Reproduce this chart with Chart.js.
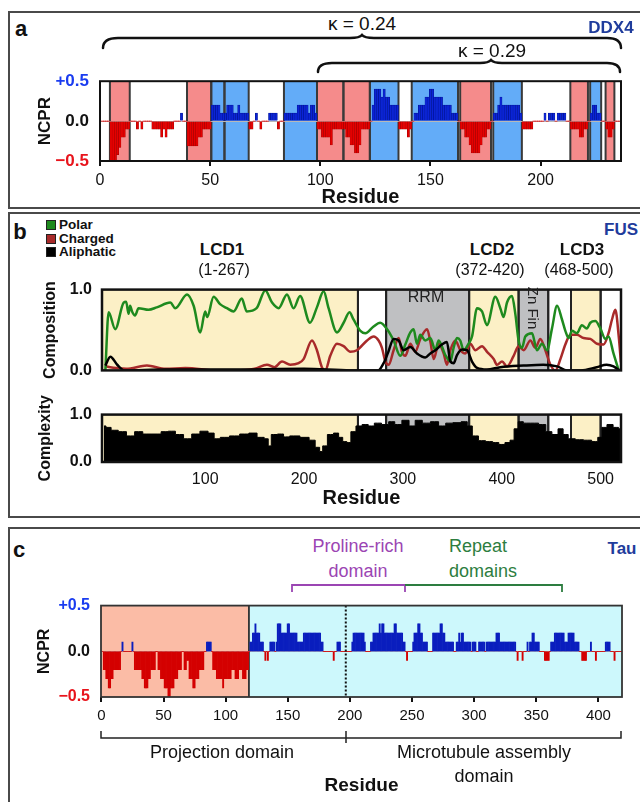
<!DOCTYPE html>
<html>
<head>
<meta charset="utf-8">
<title>NCPR and composition profiles</title>
<script src="https://cdn.jsdelivr.net/npm/chart.js"></script>
<style>
body { margin: 0; background: #fff; }
#page { position: relative; width: 640px; height: 802px; overflow: hidden; font-family: 'Liberation Sans', Arial, sans-serif; color: #111; }
.box { position: absolute; left: 8px; width: 660px; border: 2px solid #4a4a4a; box-sizing: border-box; }
.t { position: absolute; white-space: nowrap; line-height: 1; transform: translate(-50%, -50%); }
.b { font-weight: bold; }
.name { font-weight: bold; color: #1f3c9c; font-size: 17px; }
canvas { position: absolute; left: 0; }
svg { position: absolute; left: 0; top: 0; }
.key { position: absolute; left: 46px; width: 10px; height: 10px; border: 1px solid #222; box-sizing: border-box; }
.kt { position: absolute; left: 59px; font-weight: bold; font-size: 13.5px; line-height: 1; transform: translateY(-50%); }
</style>
</head>
<body>
<div id="page">
  <div class="box" style="top:11px;height:198px"></div>
  <div class="box" style="top:212px;height:306px"></div>
  <div class="box" style="top:527px;height:290px"></div>

  <svg width="640" height="802">
    <g fill="none" stroke="#111" stroke-width="2.5" stroke-linecap="round">
      <path d="M103,48 C103,41 108,38 118,38 L350,38 C356,38 360,37.5 362,35 C364,37.5 368,38 374,38 L607,38 C616,38 621,41 621,48"/>
      <path d="M318,72 C318,66 322,63 332,63 L480,63 C486,63 489,62.5 491,60 C493,62.5 496,63 502,63 L607,63 C615,63 620,66 620,72"/>
    </g>
    <path d="M292,592 L292,585 L405,585 L405,592" fill="none" stroke="#9b45b3" stroke-width="1.8"/>
    <path d="M405,585 L562,585 L562,592" fill="none" stroke="#2d7d40" stroke-width="1.8"/>
    <path d="M101,731 L101,738 L621,738 L621,731 M346,731 L346,743" fill="none" stroke="#222" stroke-width="1.5"/>
  </svg>

  <canvas id="ddx4" width="640" height="150" style="top:60px"></canvas>
  <canvas id="comp" width="640" height="120" style="top:270px"></canvas>
  <canvas id="cplx" width="640" height="115" style="top:395px"></canvas>
  <canvas id="tau" width="640" height="215" style="top:585px"></canvas>

  <div class="t b" style="left:21px;top:29px;font-size:22px">a</div>
  <div class="t" style="left:362px;top:23px;font-size:19px">κ = 0.24</div>
  <div class="t" style="left:492px;top:50px;font-size:19px">κ = 0.29</div>
  <div class="t name" style="left:611px;top:27px">DDX4</div>

  <div class="t b" style="left:20px;top:232px;font-size:22px">b</div>
  <div class="key" style="top:220px;background:#1e8a1e"></div>
  <div class="kt" style="top:225px">Polar</div>
  <div class="key" style="top:234px;background:#a82a2a"></div>
  <div class="kt" style="top:239px">Charged</div>
  <div class="key" style="top:247px;background:#000"></div>
  <div class="kt" style="top:252px">Aliphatic</div>
  <div class="t name" style="left:621px;top:229px">FUS</div>
  <div class="t b" style="left:222px;top:249px;font-size:17px">LCD1</div>
  <div class="t" style="left:224px;top:270px;font-size:16px">(1-267)</div>
  <div class="t b" style="left:492px;top:249px;font-size:17px">LCD2</div>
  <div class="t" style="left:490px;top:270px;font-size:16px">(372-420)</div>
  <div class="t b" style="left:582px;top:249px;font-size:17px">LCD3</div>
  <div class="t" style="left:579px;top:270px;font-size:16px">(468-500)</div>
  <div class="t" style="left:426px;top:297px;font-size:16px;color:#222">RRM</div>
  <div class="t" style="left:533px;top:308px;font-size:15px;color:#222;transform:translate(-50%,-50%) rotate(90deg)">Zn Fin</div>

  <div class="t b" style="left:19px;top:550px;font-size:22px">c</div>
  <div class="t name" style="left:622px;top:548px">Tau</div>
  <div class="t" style="left:358px;top:546px;font-size:18px;color:#9b45b3">Proline-rich</div>
  <div class="t" style="left:358px;top:571px;font-size:18px;color:#9b45b3">domain</div>
  <div class="t" style="left:478px;top:546px;font-size:18px;color:#2d7d40">Repeat</div>
  <div class="t" style="left:483px;top:571px;font-size:18px;color:#2d7d40">domains</div>
  <div class="t" style="left:222px;top:752px;font-size:18px">Projection domain</div>
  <div class="t" style="left:484px;top:752px;font-size:18px">Microtubule assembly</div>
  <div class="t" style="left:484px;top:776px;font-size:18px">domain</div>
</div>

<script>
Chart.defaults.font.family = "'Liberation Sans', Arial, sans-serif";
Chart.defaults.color = '#111';

// panel a: DDX4 NCPR per residue (residue 1..236)
const ddx4Ncpr = [
  0, 0, 0, 0, -0.5, -0.5, -0.5, -0.42, -0.33, -0.2,
  -0.2, -0.1, -0.1, 0, 0, 0, -0.1, 0, -0.1, 0,
  0, 0, 0, -0.1, -0.1, -0.1, -0.1, -0.2, -0.1, -0.2,
  -0.1, -0.1, -0.1, 0, 0, 0, 0.1, 0, 0, -0.31,
  -0.31, -0.31, -0.31, -0.31, -0.2, -0.2, -0.1, -0.1, -0.1, -0.1,
  0.2, 0.2, 0.2, 0.2, 0.1, 0.1, 0.1, 0.2, 0.2, 0.2,
  0.1, 0.1, 0.2, 0.1, 0.1, 0.1, 0.1, -0.1, -0.1, 0,
  0.1, 0, -0.1, 0, 0, 0, 0.1, 0.1, 0.1, 0.1,
  -0.1, 0, 0, 0.1, 0.1, 0.1, 0.1, 0.1, 0.1, 0.2,
  0.2, 0.2, 0.2, 0.2, 0.1, 0.2, 0.2, 0.1, -0.1, -0.1,
  -0.2, -0.2, -0.2, -0.2, -0.3, -0.1, -0.1, -0.1, -0.1, -0.1,
  -0.1, -0.2, -0.2, -0.3, -0.3, -0.4, -0.4, -0.3, -0.1, -0.1,
  -0.1, -0.1, 0, 0.2, 0.4, 0.4, 0.4, 0.3, 0.4, 0.3,
  0.3, 0.2, 0.2, 0.2, 0.2, -0.1, -0.1, -0.1, -0.1, -0.2,
  -0.1, 0, 0.1, 0.1, 0.2, 0.2, 0.2, 0.3, 0.3, 0.4,
  0.4, 0.3, 0.3, 0.3, 0.3, 0.2, 0.2, 0.2, 0.2, 0.1,
  0.1, 0.1, 0, -0.1, -0.1, -0.2, -0.2, -0.3, -0.4, -0.4,
  -0.4, -0.4, -0.3, -0.2, -0.2, -0.1, -0.1, 0, 0.1, 0.1,
  0.2, 0.3, 0.2, 0.2, 0.2, 0.2, 0.2, 0.2, 0.2, 0.2,
  0.1, -0.1, -0.1, -0.1, -0.1, -0.1, 0, 0, 0, 0,
  0, 0.1, 0, 0.1, 0.1, 0.1, 0, 0.1, 0.1, 0.1,
  0.1, 0, 0, -0.1, -0.1, -0.1, -0.1, -0.2, -0.2, -0.1,
  -0.1, 0, 0.1, 0.2, 0.2, 0.1, 0.1, 0, 0, -0.1,
  -0.2, -0.2, -0.1, 0, 0, 0
];
const ddx4BandStart = [4.5, 39.5, 50.5, 56.5, 83.5, 98.5, 110.5, 122.5, 141.5, 163.5, 178.5, 213.5, 222.5, 229.5];
const ddx4BandEnd = [13.5, 50.5, 56.5, 67.5, 98.5, 110.5, 122.5, 135.5, 162.5, 177.5, 191.5, 221.5, 227.5, 233.5];
const ddx4BandSign = [-1, -1, 1, 1, 1, -1, -1, 1, 1, -1, 1, -1, 1, -1];
const ddx4Ticks = [0, 50, 100, 150, 200];
const ncprTicks = [-0.5, 0, 0.5];
const ncprTickLabels = ['\u22120.5', '0.0', '+0.5'];

// panel b: FUS composition and complexity
const fusBandStart = [-4.4, 254.5, 283, 367, 417, 447, 470, 500];
const fusBandEnd = [254.5, 283, 367, 417, 447, 470, 500, 520.6];
const fusBandKind = ['lcd', 'none', 'fold', 'lcd', 'fold', 'none', 'lcd', 'none'];
const polarRes = [
  -1, 2.3, 9, 17.5, 20, 22.5, 24, 26, 29, 32.6,
  42.7, 51, 64.7, 69.7, 81.6, 88.3, 95, 100, 102, 108.5,
  115, 122, 128.7, 137, 142, 152, 160.8, 167.6, 174.3, 182.7,
  189.4, 196, 206, 213, 219.8, 224.8, 233.3, 240, 246, 250,
  257, 262, 270, 277, 284, 290.6, 297.3, 302.4, 307.5, 310.8,
  314.2, 317.6, 322.6, 327.7, 332.8, 336.1, 342.9, 348, 351.3, 354.7,
  358, 361.4, 366.4, 369.9, 375, 380, 385, 393.5, 398.5, 401.8,
  405.3, 410.3, 413.7, 417, 420.5, 423.8, 430.6, 435.6, 440.7, 445.8,
  450.8, 455.9, 460.9, 464.3, 467.6, 471, 476, 481, 486, 489.6,
  494.6, 499.7, 504.8, 508, 513, 518.3
];
const polarVal = [
  0, 0.72, 0.51, 0.84, 0.85, 0.70, 0.80, 0.73, 0.68, 0.77,
  0.75, 0.78, 0.84, 0.77, 0.94, 0.80, 0.47, 0.73, 0.66, 0.91,
  0.82, 0.77, 0.73, 0.89, 0.73, 0.77, 0.99, 0.84, 0.77, 0.94,
  0.77, 0.92, 0.59, 0.78, 0.98, 0.77, 0.47, 0.59, 0.72, 0.63,
  0.49, 0.46, 0.54, 0.59, 0.51, 0.37, 0.18, 0.32, 0.47, 0.51,
  0.33, 0.44, 0.37, 0.40, 0.25, 0.37, 0.19, 0.11, 0.28, 0.40,
  0.37, 0.25, 0.33, 0.42, 0.77, 0.73, 0.56, 0.91, 0.77, 0.66,
  0.84, 0.92, 0.70, 0.37, 0.28, 0.42, 0.46, 0.25, 0.33, 0.25,
  0.52, 0.80, 0.63, 0.49, 0.40, 0.49, 0.46, 0.56, 0.52, 0.59,
  0.61, 0.52, 0.39, 0.42, 0.21, 0
];
const chargedRes = [
  -1, 10, 20, 41, 60, 80, 112, 130, 150, 162.5,
  170, 177.7, 186, 194.5, 199.5, 208, 213, 218, 221.5, 226.5,
  233.3, 240, 246.8, 253.5, 263.7, 270.3, 275.4, 278.8, 282.2, 285.6,
  290.6, 295.7, 299, 302.4, 307.5, 312.5, 317.6, 324.4, 327.7, 331.1,
  336.1, 341.2, 344.5, 348, 353, 358.1, 363.2, 368.2, 373.3, 380,
  385.1, 391.8, 395.2, 400.3, 405.3, 412, 417, 422.2, 428.9, 434,
  439, 444.1, 449.2, 454.2, 459.3, 464.3, 469.4, 476, 482.8, 489.6,
  496.3, 503, 508, 511.5, 514.9, 518.3, 520.5
];
const chargedVal = [
  0.05, 0.03, 0.02, 0.06, 0.02, 0.03, 0, 0, 0.02, 0.07,
  0.04, 0.11, 0.07, 0.09, 0.14, 0.37, 0.25, 0.04, 0, 0.18,
  0.33, 0.30, 0.23, 0.25, 0.37, 0.42, 0.37, 0.28, 0.11, 0.07,
  0.25, 0.40, 0.23, 0.18, 0.33, 0.23, 0.39, 0.51, 0.36, 0.14,
  0.33, 0.21, 0.07, 0.25, 0.37, 0.25, 0.21, 0.33, 0.25, 0.30,
  0.23, 0.14, 0.07, 0.11, 0.05, 0.18, 0.30, 0.25, 0.37, 0.28,
  0.39, 0.25, 0.07, 0, 0.14, 0.32, 0.44, 0.44, 0.40, 0.39,
  0.33, 0.32, 0.46, 0.63, 0.75, 0.42, 0.1
];
const aliphRes = [
  -1, 4, 11, 18, 60, 120, 200, 247, 265, 275,
  280.5, 285, 290.6, 295.7, 300.7, 307.5, 314.2, 322.6, 327.7, 332.8,
  339.5, 344.5, 348, 351.3, 354.7, 359.8, 364.8, 369.9, 375, 385,
  398.5, 422, 442, 456, 466, 480, 496, 506, 513, 519
];
const aliphVal = [
  0.06, 0.17, 0.07, 0, 0.01, 0.01, 0.02, 0, 0, 0,
  0.09, 0.22, 0.39, 0.37, 0.25, 0.29, 0.21, 0.16, 0.21, 0.25,
  0.32, 0.35, 0.11, 0.09, 0.19, 0.26, 0.25, 0.11, 0.03, 0.01,
  0.04, 0.06, 0.07, 0.05, 0, 0, 0.04, 0.07, 0.05, 0
];
const complexRes = [
  -2.4, 1.7, 7.9, 16.2, 24.5, 32.7, 41, 51.3, 59.5, 65.7,
  74, 82.2, 90.5, 98.8, 107, 111.1, 119.4, 129.7, 140, 148.3,
  156.6, 162.7, 164.8, 168.9, 177.2, 181.3, 189.6, 202, 208.2, 214.3,
  217.2, 220.5, 226.7, 232.9, 237, 241.2, 245.3, 249.4, 255.6, 261.8,
  268, 274.2, 282.5, 288.7, 294.8, 303.1, 309.3, 315.5, 323.7, 332,
  340.2, 346.4, 354.7, 363, 367.1, 373.3, 379.5, 387.7, 393.9, 400.1,
  406.3, 410.4, 414.5, 418.7, 424.9, 433.1, 441.4, 447.6, 453.8, 460,
  464.1, 470.3, 478.5, 486.8, 495, 499.2, 503.3, 509.5, 515.7, 520.6
];
const complexVal = [
  0.76, 0.73, 0.67, 0.64, 0.55, 0.64, 0.59, 0.59, 0.64, 0.65,
  0.58, 0.49, 0.59, 0.65, 0.61, 0.49, 0.52, 0.55, 0.59, 0.61,
  0.52, 0.49, 0.34, 0.58, 0.59, 0.53, 0.55, 0.52, 0.46, 0.31,
  0.22, 0.34, 0.58, 0.61, 0.52, 0.43, 0.41, 0.64, 0.76, 0.79,
  0.76, 0.82, 0.79, 0.85, 0.79, 0.88, 0.76, 0.88, 0.82, 0.85,
  0.76, 0.82, 0.83, 0.85, 0.76, 0.55, 0.45, 0.43, 0.41, 0.37,
  0.41, 0.46, 0.70, 0.85, 0.82, 0.82, 0.79, 0.64, 0.58, 0.70,
  0.58, 0.49, 0.47, 0.46, 0.43, 0.52, 0.73, 0.79, 0.73, 0.70
];
const fusTicks = [100, 200, 300, 400, 500];
const fracTicks = [0, 1];
const fracTickLabels = ['0.0', '1.0'];

// panel c: Tau NCPR per residue (residue 1..419)
const tauNcpr = [
  0, -0.2, -0.2, -0.3, -0.3, -0.4, -0.4, -0.3, -0.3, -0.2,
  -0.2, -0.2, -0.2, -0.2, -0.2, 0, 0.1, 0, 0, 0,
  0, 0, 0, 0, 0.1, 0, -0.2, -0.2, -0.2, -0.2,
  -0.2, -0.2, -0.3, -0.3, -0.4, -0.4, -0.4, -0.3, -0.3, -0.2,
  -0.2, -0.2, -0.2, 0, 0, -0.2, -0.2, -0.3, -0.3, -0.3,
  -0.4, -0.4, -0.4, -0.5, -0.5, -0.4, -0.4, -0.4, -0.3, -0.3,
  -0.3, -0.2, -0.2, -0.2, 0, 0, -0.2, -0.2, -0.1, -0.1,
  -0.3, -0.3, -0.3, -0.4, -0.4, -0.3, -0.3, -0.3, -0.2, -0.2,
  -0.2, -0.2, 0, 0, 0.1, 0.1, 0.1, 0.1, 0, -0.2,
  -0.2, -0.2, -0.3, -0.3, -0.3, -0.3, -0.3, -0.4, -0.3, -0.3,
  -0.3, -0.3, -0.3, -0.3, -0.2, -0.2, -0.2, -0.3, -0.3, -0.3,
  -0.2, -0.2, -0.2, -0.3, -0.3, -0.3, -0.2, -0.2, 0, 0.1,
  0.1, 0.2, 0.2, 0.3, 0.2, 0.2, 0.2, 0.1, 0.1, 0.1,
  0, -0.1, 0, -0.1, 0, 0.1, 0.1, 0.1, 0.1, 0,
  0.1, 0.3, 0.3, 0.3, 0.2, 0.2, 0.2, 0.2, 0.2, 0.3,
  0.3, 0.2, 0.2, 0.2, 0.2, 0.2, 0.2, 0.1, 0.1, 0.1,
  0.1, 0.1, 0.2, 0.2, 0.2, 0.2, 0.2, 0.2, 0.2, 0.2,
  0.2, 0.2, 0.2, 0.2, 0.2, 0.2, 0.1, 0.1, 0, 0,
  0, 0, 0, 0, 0, 0, -0.1, 0, 0, 0.1,
  0.1, 0.1, 0, 0, 0, 0, 0, 0, 0, 0,
  0, 0.1, 0.2, 0.2, 0.2, 0.2, 0.2, 0.2, 0.2, 0.2,
  0.2, 0.1, 0, 0, 0, 0, 0.1, 0.1, 0.2, 0.2,
  0.2, 0.2, 0.2, 0.3, 0.2, 0.3, 0.3, 0.2, 0.2, 0.2,
  0.2, 0.2, 0.2, 0.2, 0.2, 0.3, 0.3, 0.2, 0.2, 0.2,
  0.2, 0.2, 0.1, 0.1, 0, -0.1, 0, 0, 0, 0,
  0.1, 0.2, 0.2, 0.2, 0.3, 0.3, 0.2, 0.2, 0.1, 0.1,
  0.1, 0.1, 0, 0, 0, 0, 0.2, 0.2, 0.2, 0.2,
  0.2, 0.2, 0.3, 0.3, 0.2, 0.2, 0.1, 0.1, 0.1, 0.1,
  0.1, 0.1, 0.1, 0, 0, 0.1, 0.1, 0.2, 0.1, 0.2,
  0.2, 0.1, 0.1, 0.1, 0.1, 0.1, 0.1, 0, 0.1, 0.1,
  0.1, 0, 0, 0.1, 0.1, 0.1, 0.1, 0.1, 0, 0.1,
  0.1, 0.1, 0.1, 0.1, 0.1, 0.1, 0.1, 0.2, 0.2, 0.2,
  0.1, 0.1, 0.1, 0.1, 0.1, 0.1, 0.1, 0.1, 0.1, 0.1,
  0.1, 0.1, 0.1, 0, -0.1, 0, 0, 0, -0.1, 0,
  0, 0, 0.1, 0, 0.1, 0.1, 0.2, 0.2, 0.1, 0.1,
  0.1, 0.1, 0, 0, 0, 0, -0.1, -0.1, -0.1, -0.1,
  0, 0.1, 0.1, 0.1, 0.2, 0.2, 0.2, 0.2, 0.2, 0.2,
  0.2, 0.2, 0.1, 0.1, 0.1, 0.2, 0.2, 0.2, 0.2, 0.2,
  0.1, 0.1, 0.1, 0.1, 0, 0, -0.1, -0.1, -0.1, -0.1,
  0, 0, 0, 0.1, 0, 0, 0, -0.1, 0, 0,
  0, 0, 0, 0, 0, 0.1, 0.1, 0.1, 0.1, 0,
  0, 0, -0.1, 0, 0, 0, 0, 0, 0
];
const tauBandStart = [-0.3, 118.7];
const tauBandEnd = [118.7, 419];
const tauBandKind = ['projection', 'microtubule'];
const tauDomainSplit = 196.7;
const tauTicks = [0, 50, 100, 150, 200, 250, 300, 350, 400];

const BLUE = '#1a3cf0', RED = '#e8141c';
const tickColor = v => v > 0 ? BLUE : (v < 0 ? RED : '#111');
const residuePts = vals => vals.map((v, i) => ({x: i + 1, y: v}));
const pts = (xs, ys) => xs.map((x, i) => ({x: x, y: ys[i]}));

// shaded domains behind the data plus the frame around the plot area
function bands(starts, ends, fills, edge, edgeW, frameW, frameColor) {
  return {
    id: 'bands',
    beforeDraw(chart) {
      const {ctx, chartArea: a} = chart;
      const x = chart.scales.x;
      const px = v => Math.min(a.right, Math.max(a.left, x.getPixelForValue(v)));
      ctx.save();
      starts.forEach((s, i) => {
        const x0 = px(s), x1 = px(ends[i]);
        ctx.fillStyle = fills[i];
        ctx.fillRect(x0, a.top, x1 - x0, a.bottom - a.top);
      });
      ctx.strokeStyle = edge;
      ctx.lineWidth = edgeW;
      starts.concat(ends).forEach(v => {
        const p = px(v);
        if (p <= a.left + 1 || p >= a.right - 1) return;
        ctx.beginPath();
        ctx.moveTo(p, a.top);
        ctx.lineTo(p, a.bottom);
        ctx.stroke();
      });
      ctx.restore();
    },
    afterDraw(chart) {
      const {ctx, chartArea: a} = chart;
      ctx.save();
      ctx.strokeStyle = frameColor;
      ctx.lineWidth = frameW;
      ctx.strokeRect(a.left, a.top, a.right - a.left, a.bottom - a.top);
      ctx.restore();
    }
  };
}

const splitLine = {
  id: 'splitLine',
  afterDatasetsDraw(chart) {
    const {ctx, chartArea: a} = chart;
    const p = chart.scales.x.getPixelForValue(tauDomainSplit);
    ctx.save();
    ctx.strokeStyle = '#111';
    ctx.lineWidth = 2;
    ctx.setLineDash([2, 2]);
    ctx.beginPath();
    ctx.moveTo(p, a.top);
    ctx.lineTo(p, a.bottom);
    ctx.stroke();
    ctx.restore();
  }
};

function ncprBars(vals, pos, neg, posEdge, negEdge, bw) {
  return {
    data: residuePts(vals),
    backgroundColor: vals.map(v => v > 0 ? pos : neg),
    borderColor: vals.map(v => v > 0 ? posEdge : negEdge),
    borderWidth: vals.map(v => v === 0 ? 0 : bw),
    barPercentage: 1,
    categoryPercentage: 1
  };
}

const base = {
  responsive: false,
  animation: false,
  devicePixelRatio: 1,
  events: [],
  plugins: {legend: {display: false}, tooltip: {enabled: false}}
};

// panel a
new Chart(document.getElementById('ddx4'), {
  type: 'bar',
  data: {datasets: [ncprBars(ddx4Ncpr, '#0b24d6', '#e60000', '#001188', '#9a0000', 0.5)]},
  options: Object.assign({}, base, {
    layout: {padding: {left: 30, right: 19, top: 17, bottom: 0}},
    scales: {
      x: {
        type: 'linear', min: 0, max: 236.5, offset: false,
        afterBuildTicks: s => { s.ticks = ddx4Ticks.map(v => ({value: v})); },
        afterFit: s => { s.height = 49; },
        border: {display: false},
        grid: {offset: false, drawOnChartArea: false, drawTicks: true, tickLength: 5, color: '#111', lineWidth: 2},
        ticks: {autoSkip: false, maxRotation: 0, padding: 5, font: {size: 16}, color: '#111'},
        title: {display: true, text: 'Residue', font: {size: 20, weight: 'bold'}, color: '#111', padding: {top: 0, bottom: 1}}
      },
      y: {
        min: -0.5, max: 0.5,
        afterBuildTicks: s => { s.ticks = ncprTicks.map(v => ({value: v})); },
        afterFit: s => { s.width = 70; },
        border: {display: false},
        grid: {drawTicks: false, lineWidth: 1, color: c => c.tick && c.tick.value === 0 ? '#b8b8b8' : 'rgba(0,0,0,0)'},
        ticks: {padding: 11, font: {size: 17, weight: 'bold'}, color: c => tickColor(c.tick.value), callback: (v, i) => ncprTickLabels[i]},
        title: {display: true, text: 'NCPR', font: {size: 17, weight: 'bold'}, color: '#111', padding: {top: 5}}
      }
    }
  }),
  plugins: [bands(ddx4BandStart, ddx4BandEnd, ddx4BandSign.map(s => s > 0 ? '#63acf8' : '#f58b8b'), '#3a3a3a', 2, 2, '#111')]
});

// panel b
const fusFill = fusBandKind.map(k => k === 'lcd' ? '#fcf0c6' : (k === 'fold' ? '#bfc0c2' : '#ffffff'));

new Chart(document.getElementById('comp'), {
  type: 'line',
  data: {
    datasets: [
      {data: pts(aliphRes, aliphVal), borderColor: '#000'},
      {data: pts(polarRes, polarVal), borderColor: '#1e8a1e'},
      {data: pts(chargedRes, chargedVal), borderColor: '#a82a2a'}
    ].map(d => Object.assign(d, {borderWidth: 2.5, pointRadius: 0, cubicInterpolationMode: 'monotone', fill: false}))
  },
  options: Object.assign({}, base, {
    layout: {padding: {left: 30, right: 19, top: 11, bottom: 13}},
    scales: {
      x: {type: 'linear', min: -4.4, max: 520.6, display: false},
      y: {
        min: 0, max: 1,
        afterBuildTicks: s => { s.ticks = fracTicks.map(v => ({value: v})); },
        afterFit: s => { s.width = 72; },
        border: {display: false},
        grid: {display: false, drawTicks: false},
        ticks: {padding: 10, font: {size: 16, weight: 'bold'}, color: '#111', callback: (v, i) => fracTickLabels[i]},
        title: {display: true, text: 'Composition', font: {size: 16, weight: 'bold'}, color: '#111', padding: {top: 11}}
      }
    }
  }),
  plugins: [bands(fusBandStart, fusBandEnd, fusFill, '#222', 2, 2.5, '#111')]
});

new Chart(document.getElementById('cplx'), {
  type: 'line',
  data: {
    datasets: [{
      data: pts(complexRes, complexVal),
      stepped: 'middle',
      borderColor: '#000', borderWidth: 1, pointRadius: 0,
      fill: 'origin', backgroundColor: '#000'
    }]
  },
  options: Object.assign({}, base, {
    layout: {padding: {left: 30, right: 19, top: 12, bottom: 0}},
    scales: {
      x: {
        type: 'linear', min: -4.4, max: 520.6,
        afterBuildTicks: s => { s.ticks = fusTicks.map(v => ({value: v})); },
        afterFit: s => { s.height = 48; },
        border: {display: false},
        grid: {display: false, drawTicks: false},
        ticks: {autoSkip: false, maxRotation: 0, padding: 8, font: {size: 16}, color: '#111'},
        title: {display: true, text: 'Residue', font: {size: 20, weight: 'bold'}, color: '#111', padding: {top: 0, bottom: 0}}
      },
      y: {
        min: 0, max: 1,
        afterBuildTicks: s => { s.ticks = fracTicks.map(v => ({value: v})); },
        afterFit: s => { s.width = 72; },
        border: {display: false},
        grid: {display: false, drawTicks: false},
        ticks: {padding: 10, font: {size: 16, weight: 'bold'}, color: '#111', callback: (v, i) => fracTickLabels[i]},
        title: {display: true, text: 'Complexity', font: {size: 16, weight: 'bold'}, color: '#111', padding: {top: 6}}
      }
    }
  }),
  plugins: [bands(fusBandStart, fusBandEnd, fusFill, '#222', 2, 2.5, '#111')]
});

// panel c
new Chart(document.getElementById('tau'), {
  type: 'bar',
  data: {datasets: [ncprBars(tauNcpr, '#0a1ebe', '#d40000', '#0a1ebe', '#d40000', 0)]},
  options: Object.assign({}, base, {
    layout: {padding: {left: 30, right: 18, top: 12, bottom: 0}},
    scales: {
      x: {
        type: 'linear', min: -0.3, max: 419, offset: false,
        afterBuildTicks: s => { s.ticks = tauTicks.map(v => ({value: v})); },
        afterFit: s => { s.height = 103; },
        border: {display: false},
        grid: {offset: false, drawOnChartArea: false, drawTicks: true, tickLength: 5, color: '#111', lineWidth: 2},
        ticks: {autoSkip: false, maxRotation: 0, padding: 5, font: {size: 15}, color: '#111'},
        title: {display: true, text: 'Residue', font: {size: 19, weight: 'bold'}, color: '#111', padding: {top: 0, bottom: 3}}
      },
      y: {
        min: -0.5, max: 0.5,
        afterBuildTicks: s => { s.ticks = ncprTicks.map(v => ({value: v})); },
        afterFit: s => { s.width = 71; },
        border: {display: false},
        grid: {drawTicks: false, lineWidth: 1, color: c => c.tick && c.tick.value === 0 ? '#b8b8b8' : 'rgba(0,0,0,0)'},
        ticks: {padding: 11, font: {size: 16, weight: 'bold'}, color: c => tickColor(c.tick.value), callback: (v, i) => ncprTickLabels[i]},
        title: {display: true, text: 'NCPR', font: {size: 16, weight: 'bold'}, color: '#111', padding: {top: 5}}
      }
    }
  }),
  plugins: [bands(tauBandStart, tauBandEnd, tauBandKind.map(k => k === 'projection' ? '#fbbca6' : '#cdf8fc'), '#333', 1.5, 1.8, '#333'), splitLine]
});
</script>
</body>
</html>
